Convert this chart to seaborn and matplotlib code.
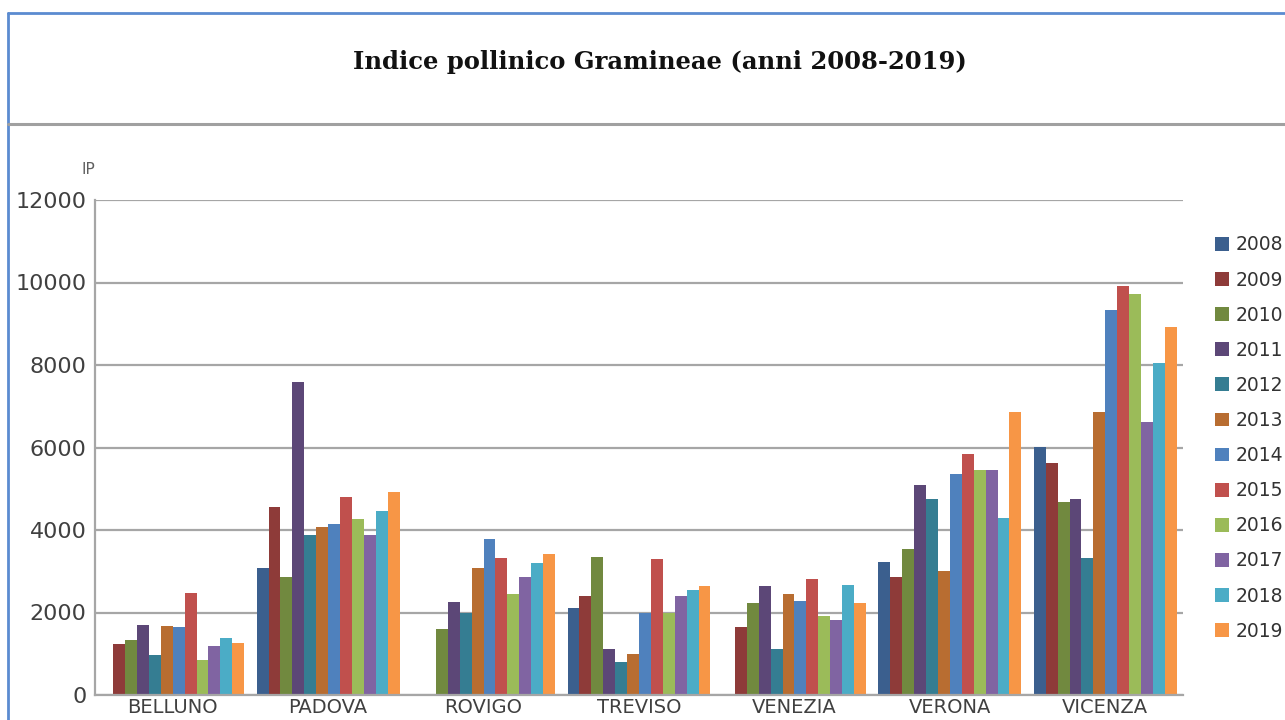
import numpy as np
import pandas as pd
import seaborn as sns
import matplotlib.pyplot as plt
from matplotlib.lines import Line2D
from matplotlib.patches import Patch

# Pollen index values (NaN = no bar)
cities = ["BELLUNO", "PADOVA", "ROVIGO", "TREVISO", "VENEZIA", "VERONA", "VICENZA"]
years = ["2008", "2009", "2010", "2011", "2012", "2013",
         "2014", "2015", "2016", "2017", "2018", "2019"]
belluno = [np.nan, 1240, 1330, 1690, 970, 1670, 1650, 2480, 860, 1180, 1370, 1250]
padova = [3090, 4550, 2860, 7580, 3880, 4080, 4140, 4790, 4260, 3890, 4450, 4910]
rovigo = [np.nan, np.nan, 1590, 2260, 1980, 3070, 3780, 3320, 2460, 2860, 3190, 3430]
treviso = [2100, 2400, 3350, 1120, 810, 990, 1980, 3300, 1980, 2400, 2540, 2650]
venezia = [np.nan, 1640, 2240, 2640, 1120, 2460, 2280, 2810, 1910, 1810, 2670, 2240]
verona = [3230, 2850, 3530, 5090, 4760, 3000, 5360, 5850, 5460, 5460, 4290, 6860]
vicenza = [6010, 5630, 4690, 4750, 3310, 6860, 9340, 9910, 9730, 6630, 8050, 8920]

colors = ["#3B5F8E", "#8E3B39", "#71893F", "#5C4777", "#357D92", "#B86D31",
          "#4F81BD", "#C0504D", "#9BBB59", "#8064A2", "#4BACC6", "#F79646"]

rows = []
for city, vals in zip(cities, [belluno, padova, rovigo, treviso, venezia, verona, vicenza]):
    for year, v in zip(years, vals):
        rows.append({"city": city, "year": year, "ip": v})
df = pd.DataFrame(rows)

sns.set_style("white")
fig = plt.figure(figsize=(12.85, 7.2), dpi=100)
ax = fig.add_axes([95 / 1285, 1 - 695 / 720, 1088 / 1285, 495 / 720])

sns.barplot(data=df, x="city", y="ip", hue="year", hue_order=years, order=cities,
            palette=colors, width=0.92, errorbar=None, saturation=1,
            linewidth=0, ax=ax, legend=False)

ax.set_ylim(0, 12000)
ax.set_yticks(range(0, 12001, 2000))
ax.yaxis.grid(True, color="#A6A6A6", linewidth=1.6)
ax.set_axisbelow(True)
ax.set_xlabel("")
ax.set_ylabel("")
for s in ["top", "right"]:
    ax.spines[s].set_visible(False)
for s in ["left", "bottom"]:
    ax.spines[s].set_color("#A6A6A6")
    ax.spines[s].set_linewidth(1.6)
ax.tick_params(axis="y", length=0, labelsize=16, labelcolor="#404040", pad=6)
ax.tick_params(axis="x", length=0, labelsize=14, labelcolor="#404040", pad=2)

fig.text(88 / 1285, 1 - 170 / 720, "IP", fontsize=11, color="#606060", ha="center", va="center")

# title box: blue frame and grey separator
fig.add_artist(Line2D([8 / 1285, 8 / 1285], [0, 1 - 13 / 720], color="#5B8BD0", lw=2))
fig.add_artist(Line2D([8 / 1285, 1], [1 - 13 / 720, 1 - 13 / 720], color="#5B8BD0", lw=2))
fig.add_artist(Line2D([8 / 1285, 1], [1 - 124 / 720, 1 - 124 / 720], color="#A0A0A0", lw=2.2))
fig.text(660 / 1285, 1 - 62 / 720, "Indice pollinico Gramineae (anni 2008-2019)",
         fontsize=17.5, family="DejaVu Serif", fontweight="bold",
         ha="center", va="center", color="#111111")

handles = [Patch(facecolor=c, edgecolor="none", label=y) for c, y in zip(colors, years)]
fig.legend(handles=handles, loc="upper left", bbox_to_anchor=(1206 / 1285, 1 - 226 / 720),
           frameon=False, fontsize=13.5, handlelength=0.75, handleheight=0.75,
           handletextpad=0.35, labelspacing=0.86, borderpad=0, labelcolor="#333333")

fig.savefig("out.png", dpi=100)
